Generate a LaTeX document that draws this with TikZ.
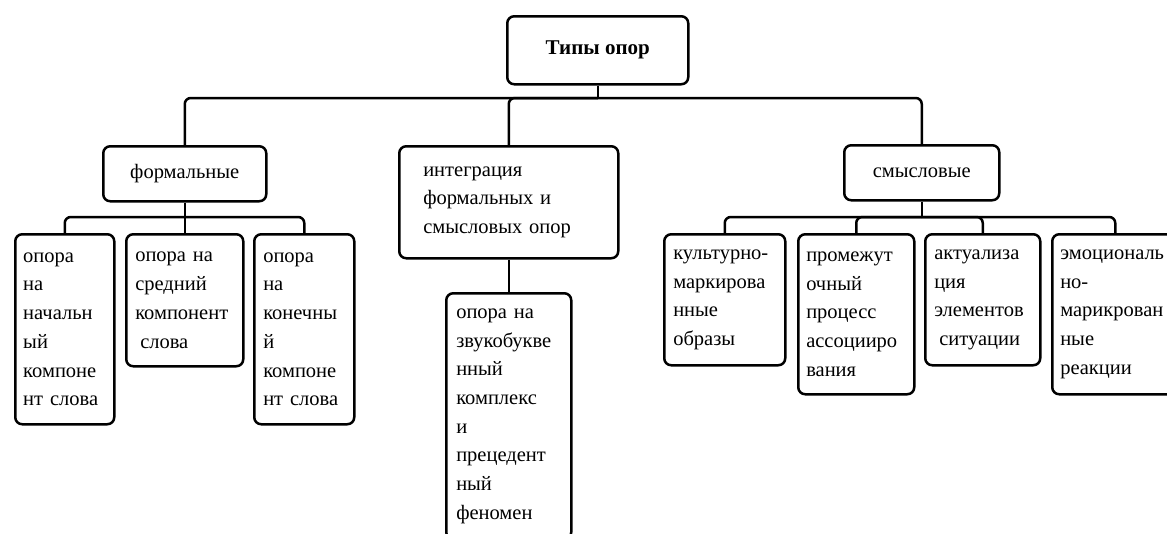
\documentclass[tikz,border=0pt]{standalone}
\usepackage{fontspec}
\setmainfont{Liberation Serif}

\begin{document}
\begin{tikzpicture}[x=1pt, y=-1pt,
	box/.style={draw, line width=2.5pt, rounded corners=7pt, inner ysep=3pt, font=\fontsize{20.5}{28.7}\selectfont},
	head/.style={box, anchor=north west, align=center},
	cell/.style={box, anchor=north west, align=left, inner xsep=8pt},
	link/.style={line width=2.5pt, rounded corners=6pt}]
	\useasboundingbox (0,0) rectangle (1167,533);
	
	% Nodes
	\node[head, minimum width=181pt, minimum height=68pt, font=\fontsize{21}{28.7}\selectfont\bfseries] (t) at (506,15) {Типы опор};
	\node[head, minimum width=163pt, minimum height=55pt] (f) at (102,145) {формальные};
	\node[cell, inner xsep=24pt, text width=171pt, minimum height=112pt] (i) at (398,145) {интеграция\\формальных и\\смысловых опор};
	\node[head, minimum width=155pt, minimum height=55pt] (s) at (843,144) {смысловые};
	
	\node[cell, text width=83pt, minimum height=190pt] (f1) at (14,233) {опора\\на\\начальн\\ый\\компоне\\нт слова};
	\node[cell, inner xsep=9pt, text width=99pt, minimum height=132pt] (f2) at (125,233) {опора на\\средний\\компонент\\\hspace*{5pt}слова};
	\node[cell, inner xsep=9pt, text width=82pt, minimum height=190pt] (f3) at (253,233) {опора\\на\\конечны\\й\\компоне\\нт слова};
	
	\node[cell, inner xsep=10pt, text width=105pt, minimum height=246pt] (i1) at (445,292) {опора на\\звукобукве\\нный\\комплекс\\и\\прецедент\\ный\\феномен};
	
	\node[cell, inner xsep=9pt, text width=103pt, minimum height=131pt] (s1) at (663,233) {культурно-\\маркирова\\нные\\образы};
	\node[cell, text width=100pt, minimum height=160pt] (s2) at (797,233) {промежут\\очный\\процесс\\ассоцииро\\вания};
	\node[cell, inner xsep=9pt, text width=97pt, minimum height=131pt] (s3) at (924,233) {актуализа\\ция\\элементов\\\hspace*{5pt}ситуации};
	\node[cell, text width=110pt, minimum height=160pt] (s4) at (1051,233) {эмоциональ\\но-\\марикрован\\ные\\реакции};
	
	% Edges
	\coordinate (b1) at (0,98);
	\coordinate (b2) at (0,217);
	\draw[link] (t.south) -- (t.south |- b1);
	\draw[link] (t.south |- b1) -| (f.north);
	\draw[link] (t.south |- b1) -| (i.north);
	\draw[link] (t.south |- b1) -| (s.north);
	
	\draw[link] (f.south) -- (f.south |- b2);
	\foreach \c in {f1, f2, f3}
		\draw[link] (f.south |- b2) -| (\c.north);
	
	\draw[link] (i.south) -- (i1.north);
	
	\draw[link] (s.south) -- (s.south |- b2);
	\foreach \c in {s1, s2, s3, s4}
		\draw[link] (s.south |- b2) -| (\c.north);
	
\end{tikzpicture}
\end{document}
